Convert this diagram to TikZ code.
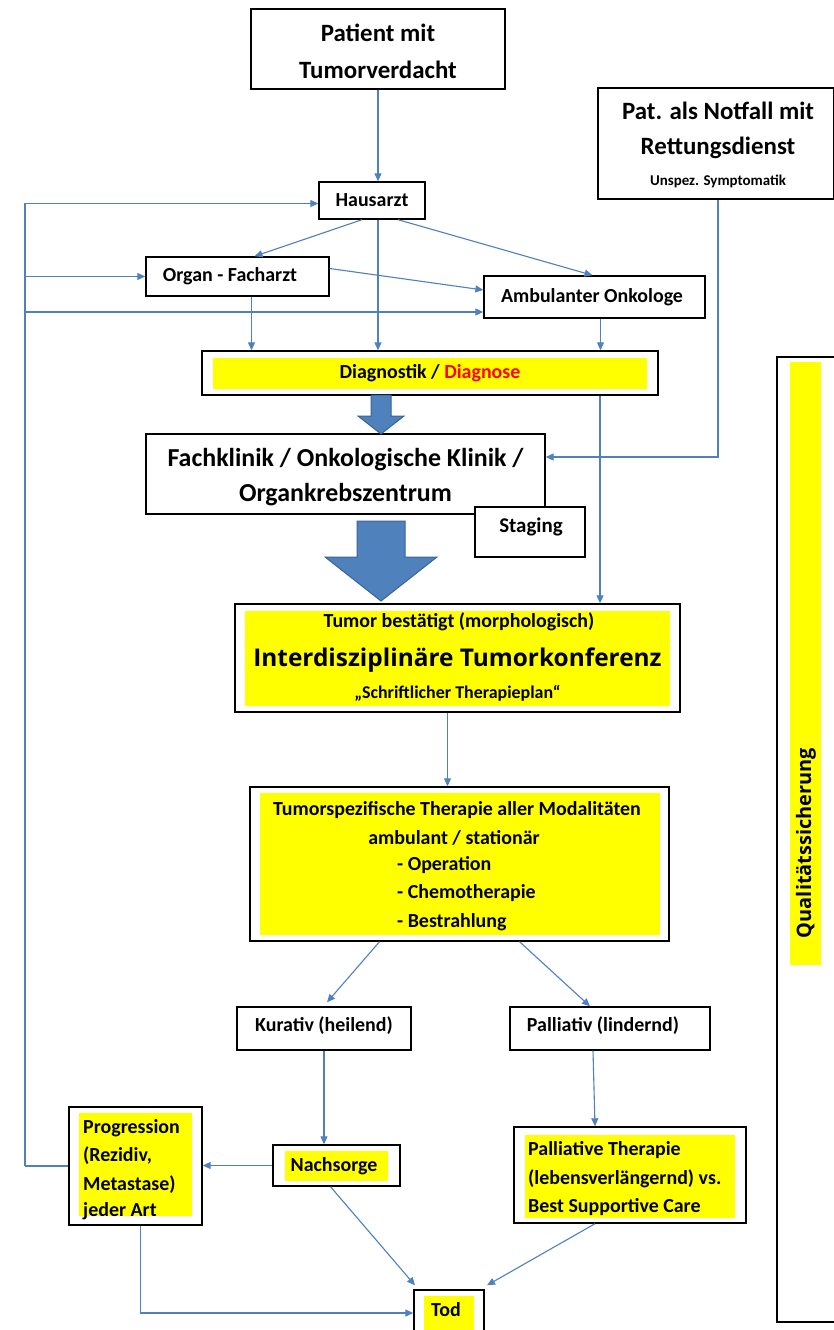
\documentclass[tikz,border=0pt]{standalone}
\usepackage{fontspec}
\setmainfont{Carlito}
\newfontfamily\osans{Open Sans}
\usetikzlibrary{arrows.meta,calc}
\definecolor{cblue}{HTML}{4F81BD}
\definecolor{cbluedark}{HTML}{3A6496}
\definecolor{hl}{HTML}{FFFF00}
\begin{document}
\begin{tikzpicture}[x=1bp,y=-1bp,
  box/.style={draw=black,line width=1.4bp,fill=white,inner sep=0pt},
  conn/.style={draw=cblue,line width=1.1bp,-{Triangle[length=8bp,width=7bp]}},
  line/.style={draw=cblue,line width=1.1bp},
  txt/.style={inner sep=0pt,font=\bfseries\fontsize{20}{24}\selectfont,text=black},
  bigtxt/.style={inner sep=0pt,font=\bfseries\fontsize{25}{30}\selectfont,text=black},
  blockarrow/.style={fill=cblue,draw=cbluedark,line width=1bp}]
\useasboundingbox (0,0) rectangle (833,1330);
\fill[white] (0,0) rectangle (833,1330);

% Qualitaetssicherung bar
\node[box,minimum width=80bp,minimum height=965bp] (qual) at (817,839.5) {};
\fill[hl] (790,362) rectangle (821,965);
\node[inner sep=0pt,rotate=90,font=\osans\bfseries\fontsize{20}{24}\selectfont] (qualt) at (806,843) {Qualitätssicherung};

% boxes
\node[box,minimum width=254bp,minimum height=80bp] (pat) at (378,49) {};
\node[bigtxt] at (378,33) {Patient mit};
\node[bigtxt] at (378,70) {Tumorverdacht};

\node[box,minimum width=236bp,minimum height=111bp] (notf) at (716,143.5) {};
\node[bigtxt] at (718,111) {Pat. als Notfall mit};
\node[bigtxt] at (718,148) {Rettungsdienst};
\node[txt,font=\bfseries\fontsize{15}{18}\selectfont] at (718,181) {Unspez. Symptomatik};

\node[box,minimum width=106bp,minimum height=37bp] (haus) at (372,200.5) {};
\node[txt] at (372,200.5) {Hausarzt};

\node[box,minimum width=183bp,minimum height=39bp] (organ) at (237.5,276.5) {};
\node[txt] at (230,276.5) {Organ - Facharzt};

\node[box,minimum width=221bp,minimum height=42bp] (amb) at (594.5,297) {};
\node[txt] at (592,297) {Ambulanter Onkologe};

\node[box,minimum width=456bp,minimum height=44bp] (diag) at (430,373) {};
\fill[hl] (213,358) rectangle (647,389);
\node[txt] at (430,373) {Diagnostik / \textcolor{red}{Diagnose}};

\node[box,minimum width=399bp,minimum height=80bp] (fach) at (345.5,474) {};
\node[bigtxt,font=\bfseries\fontsize{26}{30}\selectfont] at (345.5,460) {Fachklinik / Onkologische Klinik /};
\node[bigtxt,font=\bfseries\fontsize{26}{30}\selectfont] at (345.5,495) {Organkrebszentrum};

\node[box,minimum width=445bp,minimum height=108bp] (konf) at (457.5,658) {};
\fill[hl] (245,611) rectangle (670,706);
\node[txt] at (459,622) {Tumor bestätigt (morphologisch)};
\node[inner sep=0pt,font=\osans\bfseries\fontsize{24.5}{28}\selectfont] at (457.5,660) {Interdisziplinäre Tumorkonferenz};
\node[txt,font=\bfseries\fontsize{18}{22}\selectfont] at (457.5,693) {„Schriftlicher Therapieplan“};

\node[box,minimum width=419bp,minimum height=154bp] (spez) at (459.5,864) {};
\fill[hl] (260,793) rectangle (660,935);
\node[txt] at (457,810) {Tumorspezifische Therapie aller Modalitäten};
\node[txt] at (454,838) {ambulant / stationär};
\node[txt,anchor=west] at (397,865) {- Operation};
\node[txt,anchor=west] at (397,893) {- Chemotherapie};
\node[txt,anchor=west] at (397,922) {- Bestrahlung};

\node[box,minimum width=174bp,minimum height=43bp] (kur) at (324,1028.5) {};
\node[txt] at (324,1026) {Kurativ (heilend)};

\node[box,minimum width=200bp,minimum height=43bp] (pal) at (610,1028.5) {};
\node[txt] at (603,1026) {Palliativ (lindernd)};

\node[box,minimum width=133bp,minimum height=118bp] (prog) at (135.5,1166) {};
\fill[hl] (79,1113) rectangle (192,1216);
\node[txt,anchor=west] at (83,1128) {Progression};
\node[txt,anchor=west] at (83,1156) {(Rezidiv,};
\node[txt,anchor=west] at (83,1185) {Metastase)};
\node[txt,anchor=west] at (83,1211) {jeder Art};

\node[box,minimum width=127bp,minimum height=41bp] (nach) at (336.5,1165.5) {};
\fill[hl] (285,1151) rectangle (388,1181);
\node[txt] at (334,1166) {Nachsorge};

\node[box,minimum width=232bp,minimum height=96bp] (palt) at (630,1175) {};
\fill[hl] (525,1135) rectangle (735,1218);
\node[txt,anchor=west] at (528,1150) {Palliative Therapie};
\node[txt,anchor=west] at (528,1179) {(lebensverlängernd) vs.};
\node[txt,anchor=west] at (528,1207) {Best Supportive Care};

\node[box,minimum width=70bp,minimum height=52bp] (tod) at (449,1316) {};
\fill[hl] (424,1296) rectangle (474,1332);
\node[txt] at (446,1310) {Tod};

% block arrows
\draw[blockarrow] (371,395) -- (391,395) -- (391,416) -- (404,416) -- (381,434) -- (358,416) -- (371,416) -- cycle;
\draw[blockarrow] (357,521) -- (405,521) -- (405,557) -- (437,557) -- (381,601) -- (325,557) -- (357,557) -- cycle;
\node[box,minimum width=110bp,minimum height=50bp] (stag) at (530,532) {};
\node[txt,font=\bfseries\fontsize{21}{24}\selectfont] at (531,527) {Staging};

% connector start points
\coordinate (h1) at ($(haus.south)+(-10,0)$);
\coordinate (h2) at ($(haus.south)+(6,0)$);
\coordinate (h3) at ($(haus.south)+(26,0)$);
\coordinate (o1) at ($(organ.south)+(14,0)$);
\coordinate (a1) at ($(amb.south)+(6,0)$);
\coordinate (d1) at ($(diag.south)+(170,0)$);
\coordinate (n1) at ($(notf.south)+(2,0)$);
\coordinate (k1) at ($(konf.south)+(-10,0)$);

% connectors
\draw[conn] (pat.south) -- (pat.south |- haus.north);
\draw[conn] (h1) -- ($(organ.north)+(17,0)$);
\draw[conn] (h2) -- (h2 |- diag.north);
\draw[conn] (h3) -- ($(amb.north)+(-2,0)$);
\draw[conn] ($(organ.east)+(0,-8)$) -- ($(amb.west)+(0,-7)$);
\draw[conn] (o1) -- (o1 |- diag.north);
\draw[conn] (a1) -- (a1 |- diag.north);
\draw[conn] (d1) -- (d1 |- konf.north);
\draw[conn] (n1) |- ($(fach.east)+(0,-17)$);

\coordinate (fb) at (25,1166);
\coordinate (fba) at (25,312);
\draw[line] (prog.west) -- (fb);
\draw[conn] (fb) |- ($(haus.west)+(0,3)$);
\draw[conn] (fb |- organ.west) -- (organ.west);
\draw[conn] (fba) -- ($(amb.west)+(0,15)$);

\draw[conn] (k1) -- (k1 |- spez.north);
\draw[conn] ($(spez.south)+(-80,0)$) -- ($(kur.north)+(3,-4)$);
\draw[conn] ($(spez.south)+(60,0)$) -- ($(pal.north)+(-20,0)$);
\draw[conn] (kur.south) -- (kur.south |- nach.north);
\draw[conn] ($(pal.south)+(-17,0)$) -- ($(palt.north)+(-35,0)$);
\draw[conn] (nach.west) -- (nach.west -| prog.east);
\draw[conn] ($(nach.south)+(-6,0)$) -- ($(tod.north)+(-34,-4)$);
\draw[conn] ($(palt.south)+(-35,0)$) -- ($(tod.north)+(38,-4)$);
\draw[conn] ($(prog.south)+(5,0)$) |- ($(tod.west)+(0,-3)$);
\end{tikzpicture}
\end{document}
